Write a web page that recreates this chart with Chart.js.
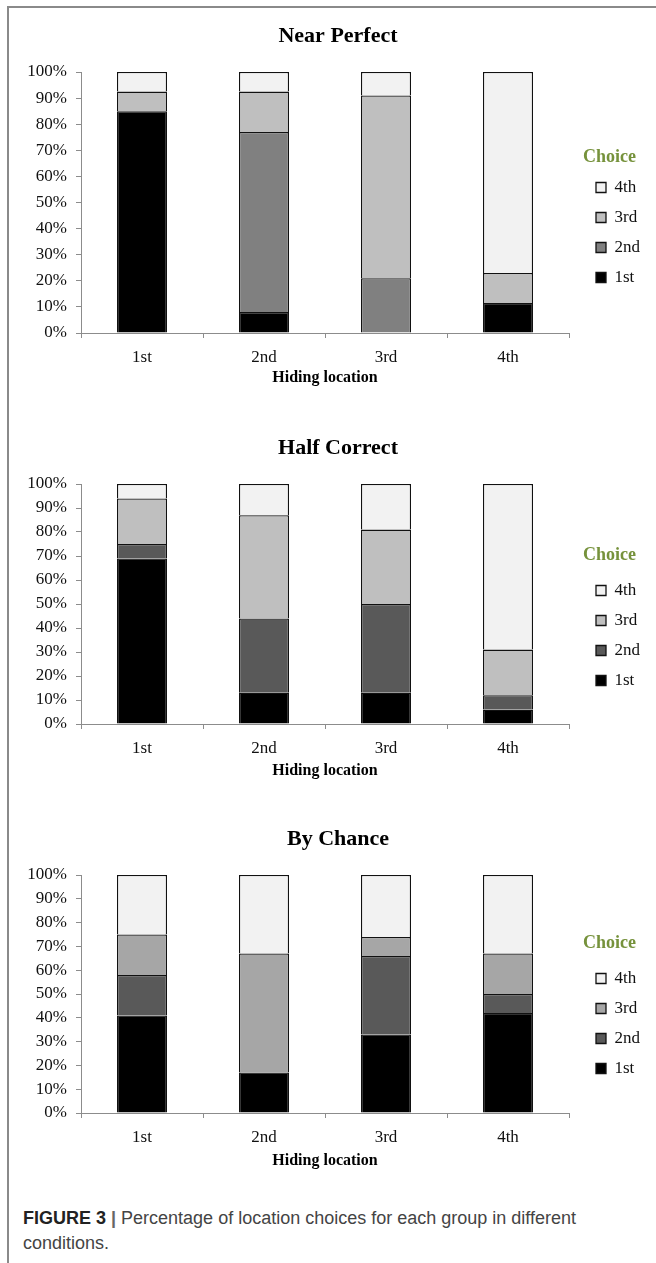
<!DOCTYPE html>
<html>
<head>
<script src="https://cdn.jsdelivr.net/npm/chart.js"></script>
<style>
    body {
        margin: 0;
        background: #fff;
        width: 656px;
        height: 1263px;
        position: relative;
        overflow: hidden;
    }
    .frame {
        position: absolute;
        left: 7px;
        top: 6px;
        width: 700px;
        height: 1300px;
        border-left: 2px solid #8a8a8a;
        border-top: 2px solid #8a8a8a;
    }
    .panel {
        position: absolute;
        left: 0;
        width: 656px;
    }
    .caption {
        position: absolute;
        left: 23px;
        top: 1206px;
        width: 630px;
        font-family: "Liberation Sans", Arial, sans-serif;
        font-size: 18px;
        line-height: 25px;
        color: #444;
    }
    .caption b { color: #222; }
    .caption .sep { color: #666; font-weight: bold; margin: 0 5px; }
</style>
</head>
<body>
<div class="frame"></div>

<div class="panel" style="top:20px;height:373px"><canvas id="nearPerfect"></canvas></div>
<div class="panel" style="top:430px;height:354px"><canvas id="halfCorrect"></canvas></div>
<div class="panel" style="top:820px;height:353px"><canvas id="byChance"></canvas></div>

<div class="caption"><b>FIGURE 3</b><span class="sep">|</span>Percentage of location choices for each group in different<br>conditions.</div>

<script>
// categories
const hidingLocations = ['1st', '2nd', '3rd', '4th'];
const choiceNames = ['1st', '2nd', '3rd', '4th'];

// Near Perfect (% per hiding location)
const nearFirst  = [85, 8, 0, 11.5];
const nearSecond = [0, 69, 21, 0];
const nearThird  = [7.5, 15.5, 70, 11.5];
const nearFourth = [7.5, 7.5, 9, 77];

// Half Correct
const halfFirst  = [69, 13, 13, 6];
const halfSecond = [6, 31, 37, 6];
const halfThird  = [19, 43, 31, 19];
const halfFourth = [6, 13, 19, 69];

// By Chance
const chanceFirst  = [41, 17, 33, 42];
const chanceSecond = [17, 0, 33, 8];
const chanceThird  = [17, 50, 8, 17];
const chanceFourth = [25, 33, 26, 33];

// fills for 1st..4th choice
const nearColors   = ['#000000', '#808080', '#bfbfbf', '#f2f2f2'];
const halfColors   = ['#000000', '#595959', '#bfbfbf', '#f2f2f2'];
const chanceColors = ['#000000', '#595959', '#a6a6a6', '#f2f2f2'];

Chart.defaults.font.family = "'Liberation Serif', 'Times New Roman', serif";
Chart.defaults.color = '#111';

// keep the legend a fixed width and move it a bit right of the plot
const legendSpot = {
    id: 'legendSpot',
    beforeLayout(chart, args, opts) {
        const lg = chart.legend;
        if (lg && !lg._fixedWidth) {
            const fit = lg.fit;
            lg.fit = function () { fit.call(this); this.width = opts.width; };
            lg._fixedWidth = true;
        }
    },
    afterLayout(chart, args, opts) {
        const lg = chart.legend;
        lg.left += opts.shift;
        lg.right += opts.shift;
    }
};

function buildChart(id, titleText, series, colors, look) {
    new Chart(document.getElementById(id), {
        type: 'bar',
        data: {
            labels: hidingLocations,
            datasets: series.map((vals, i) => ({
                label: choiceNames[i],
                data: vals,
                backgroundColor: colors[i],
                borderColor: '#111',
                borderWidth: 1.3,
                barPercentage: 0.41,
                categoryPercentage: 1
            }))
        },
        options: {
            responsive: true,
            maintainAspectRatio: false,
            animation: false,
            layout: { padding: { left: 20, right: 0, top: 0, bottom: 0 } },
            plugins: {
                title: {
                    display: true,
                    text: titleText,
                    color: '#000',
                    font: { size: 22, weight: 'bold' },
                    padding: { top: look.titleTop, bottom: look.titleBottom }
                },
                legend: {
                    position: 'right',
                    align: 'start',
                    reverse: true,
                    title: {
                        display: true,
                        text: 'Choice',
                        color: '#76923c',
                        position: 'start',
                        font: { size: 18, weight: 'bold', lineHeight: 1 },
                        padding: { top: look.legendTop, bottom: look.legendGap }
                    },
                    labels: {
                        boxWidth: 10,
                        boxHeight: 10,
                        padding: 13,
                        color: '#111',
                        font: { size: 17 }
                    }
                },
                tooltip: { enabled: false },
                legendSpot: { width: 87, shift: 14 }
            },
            scales: {
                x: {
                    stacked: true,
                    grid: { drawOnChartArea: false, tickLength: 5, color: '#8c8c8c' },
                    border: { color: '#8c8c8c' },
                    ticks: { padding: 9, color: '#111', font: { size: 17 } },
                    title: {
                        display: true,
                        text: 'Hiding location',
                        color: '#000',
                        font: { size: 16, weight: 'bold' },
                        padding: { top: 0, bottom: look.axisTitleBottom }
                    },
                    afterFit(s) { s.height = 60; }
                },
                y: {
                    stacked: true,
                    min: 0,
                    max: 100,
                    ticks: {
                        stepSize: 10,
                        padding: 9,
                        color: '#111',
                        font: { size: 17 },
                        callback: v => v + '%'
                    },
                    grid: { drawOnChartArea: false, tickLength: 5, color: '#8c8c8c' },
                    border: { color: '#8c8c8c' },
                    afterFit(s) { s.width = 61; }
                }
            }
        },
        plugins: [legendSpot]
    });
}

buildChart('nearPerfect', 'Near Perfect',
    [nearFirst, nearSecond, nearThird, nearFourth], nearColors,
    { titleTop: 3, titleBottom: 22.6, legendTop: 128, legendGap: 0, axisTitleBottom: 6 });

buildChart('halfCorrect', 'Half Correct',
    [halfFirst, halfSecond, halfThird, halfFourth], halfColors,
    { titleTop: 5.3, titleBottom: 22.3, legendTop: 116, legendGap: 5, axisTitleBottom: 4 });

buildChart('byChance', 'By Chance',
    [chanceFirst, chanceSecond, chanceThird, chanceFourth], chanceColors,
    { titleTop: 6.3, titleBottom: 22.3, legendTop: 114, legendGap: 5, axisTitleBottom: 3 });
</script>
</body>
</html>
